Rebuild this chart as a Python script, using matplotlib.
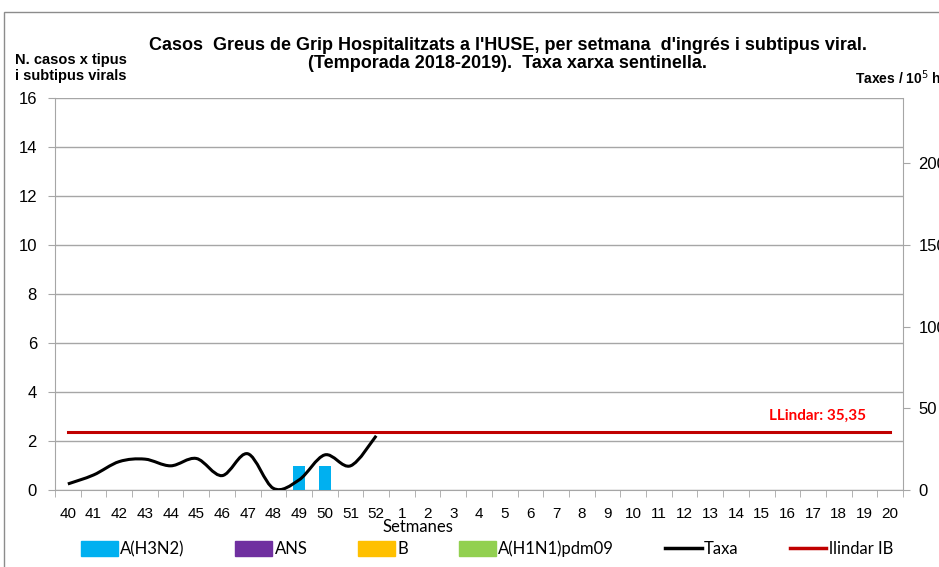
import numpy as np
import matplotlib.pyplot as plt
from matplotlib.path import Path
from matplotlib.patches import PathPatch, Rectangle, Patch
from matplotlib.lines import Line2D

# data
weeks = [str(w) for w in range(40, 53)] + [str(w) for w in range(1, 21)]
h3n2 = [0, 0, 0, 0, 0, 0, 0, 0, 0, 1, 1, 0, 0] + [0] * 20
ans = [0] * 33
flu_b = [0] * 33
h1n1 = [0] * 33
taxa = [3.7, 9.2, 17.4, 18.9, 14.8, 19.3, 8.8, 22.2, 1.0, 6.2, 21.5, 14.8, 33.2]
llindar = 35.35

col_h3n2 = "#00B0F0"
col_ans = "#7030A0"
col_b = "#FFC000"
col_h1n1 = "#92D050"
col_llindar = "#C00000"
grid_col = "#A6A6A6"
calibri_like = ['Lato', 'DejaVu Sans']


def smooth_path(x, y):
    # excel-like smoothed line (bezier through the points)
    pts = np.column_stack([x, y]).astype(float)
    n = len(pts)
    verts = [pts[0]]
    codes = [Path.MOVETO]
    for i in range(n - 1):
        p0 = pts[i - 1] if i > 0 else pts[i]
        p1 = pts[i]
        p2 = pts[i + 1]
        p3 = pts[i + 2] if i + 2 < n else pts[i + 1]
        verts += [p1 + (p2 - p0) / 6, p2 - (p3 - p1) / 6, p2]
        codes += [Path.CURVE4] * 3
    return Path(verts, codes)


plt.rcParams['font.family'] = ['Liberation Sans', 'DejaVu Sans']

fig = plt.figure(figsize=(9.39, 5.67), dpi=100)
# chart frame (cut off at right and bottom, as in the original)
fig.patches.append(Rectangle((4 / 939, -0.1), 1.2, 1.1 - 12 / 567,
                             transform=fig.transFigure, fill=False,
                             edgecolor="#8C8C8C", lw=1.0))

ax = fig.add_axes([55 / 939, 77 / 567, 848 / 939, 392 / 567])
x = np.arange(len(weeks))
w = 0.45
ax.bar(x, h3n2, w, color=col_h3n2, zorder=3)
ax.bar(x, ans, w, bottom=h3n2, color=col_ans, zorder=3)
ax.bar(x, flu_b, w, color=col_b, zorder=3)
ax.bar(x, h1n1, w, color=col_h1n1, zorder=3)

ax.set_xlim(-0.5, len(weeks) - 0.5)
ax.set_ylim(0, 16)
ax.set_yticks(np.arange(0, 17, 2))
ax.yaxis.grid(True, color=grid_col, lw=1.0)
ax.set_axisbelow(True)
ax.set_xticks(x)
ax.set_xticklabels(weeks, fontsize=11)
ax.set_xticks(np.arange(-0.5, len(weeks), 1), minor=True)
ax.tick_params(axis='x', which='major', length=0, pad=12)
ax.tick_params(axis='x', which='minor', length=5, color=grid_col)
ax.tick_params(axis='y', length=5, color=grid_col, labelsize=12, pad=8)
for s in ['top', 'right']:
    ax.spines[s].set_visible(False)
for s in ['left', 'bottom']:
    ax.spines[s].set_color(grid_col)

ax2 = ax.twinx()
ax2.set_ylim(0, 240)
ax2.set_yticks(np.arange(0, 201, 50))
ax2.tick_params(axis='y', length=5, color=grid_col, labelsize=12, pad=6)
for s in ['top', 'left', 'bottom']:
    ax2.spines[s].set_visible(False)
ax2.spines['right'].set_color(grid_col)

ax2.add_patch(PathPatch(smooth_path(x[:len(taxa)], taxa), fill=False,
                        edgecolor="black", lw=2.2, zorder=4))
ax2.plot([x[0], x[-1]], [llindar, llindar], color=col_llindar, lw=2.2, zorder=4)
ax2.text(x[-1] - 0.95, llindar + 10, "LLindar: 35,35", color="red",
         fontweight="bold", fontsize=11, ha="right", va="center",
         family=calibri_like)

fig.text(508 / 939, 1 - 45 / 567,
         "Casos  Greus de Grip Hospitalitzats a l'HUSE, per setmana  d'ingrés i subtipus viral.",
         ha="center", va="center", fontsize=13, fontweight="bold")
fig.text(508 / 939, 1 - 64 / 567,
         "(Temporada 2018-2019).  Taxa xarxa sentinella.",
         ha="center", va="center", fontsize=13, fontweight="bold")
fig.text(15 / 939, 1 - 68 / 567, "N. casos x tipus\ni subtipus virals",
         ha="left", va="center", fontsize=10.5, fontweight="bold", linespacing=1.2)
fig.text(855 / 939, 1 - 78 / 567, "Taxes / 10$^{5}$ hab.",
         ha="left", va="center", fontsize=10, fontweight="bold")
fig.text(418 / 939, 1 - 527 / 567, "Setmanes", ha="center", va="center",
         fontsize=12, family=calibri_like)

handles = [Patch(color=col_h3n2), Patch(color=col_ans), Patch(color=col_b),
           Patch(color=col_h1n1),
           Line2D([], [], color="black", lw=2.5),
           Line2D([], [], color=col_llindar, lw=2.5)]
labels = ["A(H3N2)", "ANS", "B", "A(H1N1)pdm09", "Taxa", "llindar IB"]
fig.legend(handles, labels, ncol=6, loc="center", bbox_to_anchor=(487 / 939, 1 - 549 / 567),
           frameon=False, handlelength=2.2, handleheight=1.0, handletextpad=0.15,
           columnspacing=3.05, prop={'family': calibri_like, 'size': 12})

fig.savefig("out.png", dpi=100)
